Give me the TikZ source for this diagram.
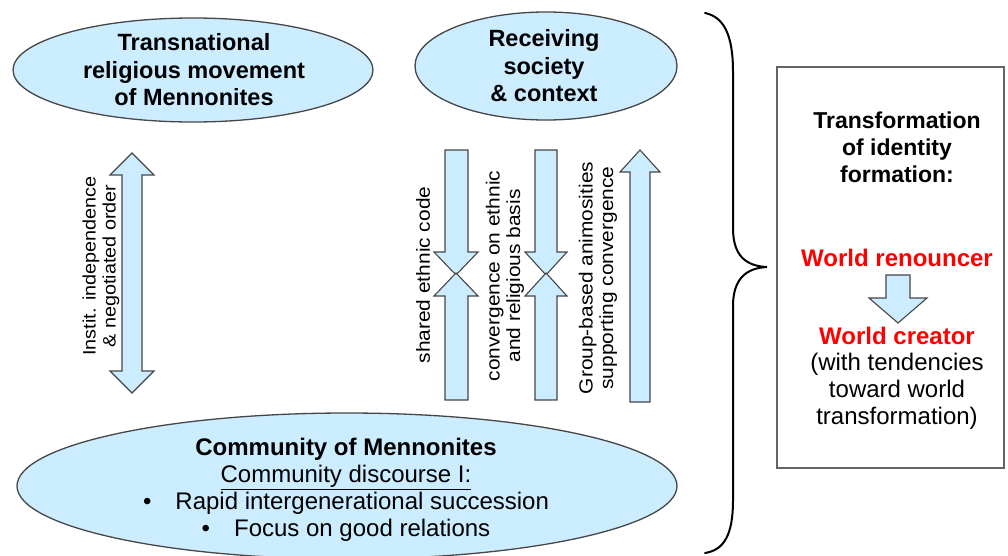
\documentclass[tikz,border=0pt]{standalone}
\usepackage{fontspec}
\setmainfont{Liberation Sans}
\newfontfamily\rotfont[FakeStretch=1.1]{Liberation Sans}
\usetikzlibrary{shapes.geometric}
\definecolor{lblue}{RGB}{204,236,255}
\definecolor{edgegray}{RGB}{70,70,70}
\definecolor{boxgray}{RGB}{100,100,100}
\definecolor{wred}{RGB}{255,0,0}
\begin{document}
\begin{tikzpicture}[x=1pt,y=-1pt,
  oval/.style={ellipse, draw=edgegray, fill=lblue, line width=1.3pt, inner sep=0pt},
  blockarrow/.style={draw=edgegray, fill=lblue, line width=1.1pt, line join=miter},
  ovaltitle/.style={align=center, inner sep=0pt, font=\fontsize{23.5}{27.5}\selectfont\bfseries},
  boxtitle/.style={align=center, inner sep=0pt, font=\fontsize{23}{27}\selectfont\bfseries},
  redtitle/.style={align=center, inner sep=0pt, text=wred, font=\fontsize{24}{27}\selectfont\bfseries},
  plaintext/.style={align=center, inner sep=0pt, font=\fontsize{24}{27}\selectfont},
  rotlabel/.style={align=center, inner sep=0pt, rotate=90, font=\rotfont\fontsize{19}{20.5}\selectfont},
  commtext/.style={align=center, inner sep=0pt, font=\fontsize{24}{27}\selectfont},
  bracestyle/.style={draw=black, line width=2pt, line cap=round}
]
\useasboundingbox (0,0) rectangle (1008,555);

% ellipses
\node[oval, minimum width=360pt, minimum height=104pt] (trans) at (193,70) {};
\node[ovaltitle] (transtext) at (194,70) {Transnational\\religious movement\\of Mennonites};

\node[oval, minimum width=262pt, minimum height=108pt] (recv) at (546,66) {};
\node[ovaltitle] (recvtext) at (544,66) {Receiving\\society\\\& context};

\node[oval, minimum width=660pt, minimum height=146pt] (comm) at (347,486) {};
\node[commtext] (commtext) at (346,490) {\textbf{Community of Mennonites}\\
  \underline{Community discourse I:}\\
  \textbullet\hspace{24pt}Rapid intergenerational succession\\
  \textbullet\hspace{24pt}Focus on good relations};

% left double arrow
\draw[blockarrow] (132,153) -- (154,175) -- (142,175) -- (142,371) -- (154,371)
  -- (132,393) -- (110,371) -- (122,371) -- (122,175) -- (110,175) -- cycle;
\node[rotlabel, font=\rotfont\fontsize{18}{20}\selectfont] (instit) at (101,266) {Instit. independence\\\& negotiated order};

% arrow pair 1
\draw[blockarrow] (445,150) -- (468,150) -- (468,252) -- (478,252) -- (456,275)
  -- (434,252) -- (445,252) -- cycle;
\draw[blockarrow] (445,400) -- (468,400) -- (468,296) -- (478,296) -- (456,273)
  -- (434,296) -- (445,296) -- cycle;
\node[rotlabel] (shared) at (423,275) {shared ethnic code};

% arrow pair 2
\draw[blockarrow] (535,150) -- (557,150) -- (557,252) -- (567,252) -- (546,275)
  -- (525,252) -- (535,252) -- cycle;
\draw[blockarrow] (535,400) -- (557,400) -- (557,296) -- (567,296) -- (546,273)
  -- (525,296) -- (535,296) -- cycle;
\node[rotlabel] (converg) at (505,276) {convergence on ethnic\\and religious basis};

% arrow 3 (up)
\draw[blockarrow] (630,402) -- (650,402) -- (650,172) -- (660,172) -- (640,150)
  -- (620,172) -- (630,172) -- cycle;
\node[rotlabel] (group) at (598,278) {Group-based animosities\\supporting convergence};

% brace
\draw[bracestyle] (705,13) .. controls (724,17) and (733,35) .. (733,72)
  -- (733,228) .. controls (733,256) and (746,266) .. (767,267)
  .. controls (746,268) and (733,279) .. (733,306)
  -- (733,500) .. controls (733,535) and (724,550) .. (705,553);

% box
\draw[draw=boxgray, line width=1.3pt] (777,67) rectangle (1004,468);
\node[boxtitle] (transf) at (897,147) {Transformation\\of identity\\formation:};
\node[redtitle] (renounce) at (897,258) {World renouncer};
\draw[blockarrow] (886,275) -- (910,275) -- (910,298) -- (927,298) -- (898,323)
  -- (869,298) -- (886,298) -- cycle;
\node[redtitle] (creator) at (897,336) {World creator};
\node[plaintext] (tend) at (897,391) {(with tendencies\\toward world\\transformation)};
\end{tikzpicture}
\end{document}
